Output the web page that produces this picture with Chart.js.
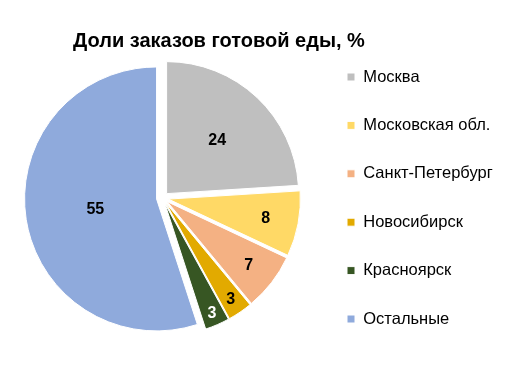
<!DOCTYPE html>
<html>
<head>
<meta charset="utf-8">
<script src="https://cdn.jsdelivr.net/npm/chart.js@4.4.1/dist/chart.umd.min.js"></script>
<style>
  html, body { margin: 0; padding: 0; background: #ffffff; }
  #wrap { position: relative; width: 516px; height: 366px; overflow: hidden; }
  #c { position: absolute; left: 0; top: 0; }
  #title {
    position: absolute; left: 73px; top: 30px; white-space: nowrap;
    font: bold 20px/20px "Liberation Sans", Arial, sans-serif; color: #000;
  }
</style>
</head>
<body>
<div id="wrap">
  <canvas id="c" width="516" height="366"></canvas>
  <div id="title">Доли заказов готовой еды, %</div>
</div>
<script>
// ---- data ----
const categories = ['Москва', 'Московская обл.', 'Санкт-Петербург', 'Новосибирск', 'Красноярск', 'Остальные'];
const values = [24, 8, 7, 3, 3, 55];

// ---- styles ----
const sliceColors = ['#BFBFBF', '#FFD966', '#F4B183', '#E2AA00', '#375623', '#8FAADC'];
const labelColors = ['#000000', '#000000', '#000000', '#000000', '#FFFFFF', '#000000'];
const labelRadius = [0.56, 0.75, 0.78, 0.875, 0.9, 0.47];
const EXPLODE = 6;
const PIE_RADIUS = 132;
const FONT = '"Liberation Sans", Arial, sans-serif';
const LEG_SIZE = 16.5, LEG_PAD = 31.9, LEG_BOX = 8;

// legend placement: compute paddings so the legend box starts where wanted
const mctx = document.createElement('canvas').getContext('2d');
mctx.font = LEG_SIZE + 'px ' + FONT;
let maxW = 0;
categories.forEach(t => { maxW = Math.max(maxW, mctx.measureText(t).width); });
const legendWidth = LEG_PAD + LEG_BOX + LEG_SIZE / 2 + maxW + 10;
const legendLeft = 347 - LEG_PAD;
const padRight = 516 - legendLeft - legendWidth;
const padLeft = 2 * 162.5 - legendLeft;

const explodePlugin = {
  id: 'explodeSlices',
  beforeDatasetDraw(chart, args) {
    const ctx = chart.ctx;
    args.meta.data.forEach(arc => {
      const mid = (arc.startAngle + arc.endAngle) / 2;
      ctx.save();
      ctx.translate(Math.cos(mid) * EXPLODE, Math.sin(mid) * EXPLODE);
      arc.draw(ctx);
      ctx.restore();
    });
    return false;
  }
};

const labelPlugin = {
  id: 'sliceLabels',
  afterDatasetsDraw(chart) {
    const ctx = chart.ctx;
    const meta = chart.getDatasetMeta(0);
    ctx.save();
    ctx.font = 'bold 16px ' + FONT;
    ctx.textAlign = 'center';
    ctx.textBaseline = 'middle';
    meta.data.forEach((arc, i) => {
      const p = arc.getProps(['x', 'y', 'startAngle', 'endAngle', 'outerRadius'], true);
      const mid = (p.startAngle + p.endAngle) / 2;
      const r = EXPLODE + labelRadius[i] * p.outerRadius;
      ctx.fillStyle = labelColors[i];
      ctx.fillText(String(chart.data.datasets[0].data[i]), p.x + Math.cos(mid) * r, p.y + Math.sin(mid) * r + 1);
    });
    ctx.restore();
  }
};

new Chart(document.getElementById('c'), {
  type: 'pie',
  data: {
    labels: categories,
    datasets: [{
      data: values,
      backgroundColor: sliceColors,
      borderColor: '#FFFFFF',
      borderWidth: 1,
      radius: PIE_RADIUS
    }]
  },
  options: {
    responsive: false,
    animation: false,
    layout: { padding: { left: padLeft, right: padRight, top: 35, bottom: 5 } },
    plugins: {
      title: { display: false },
      tooltip: { enabled: false },
      legend: {
        position: 'right',
        align: 'center',
        labels: {
          boxWidth: LEG_BOX,
          boxHeight: LEG_BOX,
          padding: LEG_PAD,
          color: '#000000',
          font: { family: FONT, size: LEG_SIZE }
        }
      }
    }
  },
  plugins: [explodePlugin, labelPlugin]
});
</script>
</body>
</html>
